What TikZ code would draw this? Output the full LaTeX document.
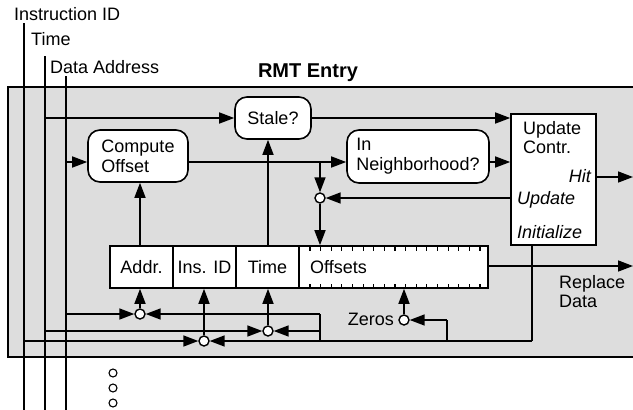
\documentclass[tikz,border=0pt]{standalone}
\usepackage{fontspec}
\setmainfont{Liberation Sans}
\usetikzlibrary{arrows.meta}
\definecolor{panel}{RGB}{221,221,221}
\tikzset{
 wire/.style={line width=1.6pt},
 arr/.style={wire,-{Triangle[length=15pt,width=11pt]}},
 lbl/.style={inner sep=0pt,font=\fontsize{18}{20}\selectfont},
 ilbl/.style={lbl,font=\fontsize{18}{20}\selectfont\itshape},
 rbox/.style={draw,line width=1.6pt,fill=white,rounded corners=12pt,font=\fontsize{18}{20}\selectfont,align=left,inner sep=0pt},
 sbox/.style={draw,line width=1.6pt,fill=white,inner sep=0pt,font=\fontsize{18}{20}\selectfont},
 mux/.style={circle,draw,line width=1.4pt,fill=white,minimum size=10pt,inner sep=0pt},
 dotc/.style={circle,draw,line width=1.1pt,minimum size=8pt,inner sep=0pt},
 tick/.style={line width=1.1pt},
}
\begin{document}
\begin{tikzpicture}[x=1pt,y=-1pt]
\useasboundingbox (0,0) rectangle (633,410);
% panel
\fill[panel] (8,87) rectangle (645,357);
\draw[wire] (645,87) -- (8,87) -- (8,357) -- (645,357);
% top labels
\node[lbl,anchor=base west] (tiid) at (14,20) {Instruction ID};
\node[lbl,anchor=base west] (ttime) at (31,45) {Time};
\node[lbl,anchor=base west] (tda) at (50,73) {Data Address};
\node[lbl,anchor=base,font=\fontsize{20}{22}\selectfont\bfseries] (title) at (308,77) {RMT Entry};
% input lines
\coordinate (iidtop) at (24,23);  \coordinate (iidbot) at (24,412);
\coordinate (timetop) at (45,56); \coordinate (timebot) at (45,412);
\coordinate (datop) at (66,76);   \coordinate (dabot) at (66,412);
\draw[wire] (iidtop) -- (iidbot);
\draw[wire] (timetop) -- (timebot);
\draw[wire] (datop) -- (dabot);
% boxes
\node[rbox,minimum width=76pt,minimum height=42pt] (stale) at (273,118) {Stale?};
\node[rbox,minimum width=100pt,minimum height=52pt] (comp) at (138,156) {Compute\\Offset};
\node[rbox,minimum width=142pt,minimum height=53pt] (neigh) at (418,156.5) {In\\Neighborhood?};
\node[sbox,minimum width=85pt,minimum height=131pt] (upd) at (553.5,179.5) {};
\node[lbl,anchor=base west] (u1) at (523,134) {Update};
\node[lbl,anchor=base west] (u2) at (523,153) {Contr.};
\node[ilbl,anchor=base east] (uhit) at (591,182) {Hit};
\node[ilbl,anchor=base west] (uupd) at (517,204) {Update};
\node[ilbl,anchor=base west] (uini) at (517,238) {Initialize};
% fields
\node[sbox,minimum width=63pt,minimum height=42pt] (addr) at (141.5,267) {Addr.};
\node[sbox,minimum width=63pt,minimum height=42pt] (ins) at (204.5,267) {Ins. ID};
\node[sbox,minimum width=63pt,minimum height=42pt] (timef) at (267.5,267) {Time};
\node[sbox,minimum width=189pt,minimum height=42pt] (offs) at (393.5,267) {};
\node[lbl,anchor=base west] (offtxt) at (310,273) {Offsets};
\foreach \k in {0,...,16}{
  \draw[tick] ({310+10.625*\k},246) -- ({310+10.625*\k},250.5);
  \draw[tick] ({310+10.625*\k},288) -- ({310+10.625*\k},283.5);
}
\node[lbl,anchor=base west] (rep1) at (559,288) {Replace};
\node[lbl,anchor=base west] (rep2) at (559,307) {Data};
% muxes
\node[mux] (cU) at (320,198) {};
\node[mux] (cA) at (140,314) {};
\node[mux] (cT) at (268,331) {};
\node[mux] (cI) at (204,341) {};
\node[mux] (cZ) at (404,320) {};
\node[lbl,anchor=base east] (zeros) at (394,325) {Zeros};
% dots
\node[dotc] (d1) at (113,373) {};
\node[dotc] (d2) at (113,388) {};
\node[dotc] (d3) at (113,403) {};
% coordinates
\coordinate (y162) at (0,162);
\coordinate (hitend) at (633,177);
\coordinate (repend) at (633,266);
\coordinate (ibot) at (532,341);
\coordinate (j1) at (320,341);
\coordinate (j2) at (447,341);
\coordinate (tup) at (268,0);
% connectors
\draw[arr] (stale.west -| timetop) -- (stale.west);
\draw[arr] (stale.east) -- (stale.east -| upd.west);
\draw[arr] (datop |- y162) -- (comp.west |- y162);
\draw[arr] (comp.east |- y162) -- (neigh.west |- y162);
\draw[arr] (neigh.east |- y162) -- (upd.west |- y162);
\draw[arr] (cU |- y162) -- (cU.north);
\draw[arr] (upd.west |- cU) -- (cU.east);
\draw[arr] (cU.south) -- (cU |- offs.north);
\draw[arr] (cA |- addr.north) -- (cA |- comp.south);
\draw[arr] (tup |- timef.north) -- (tup |- stale.south);
\draw[arr] (upd.east |- hitend) -- (hitend);
\draw[arr] (offs.east |- repend) -- (repend);
% initialize distribution
\draw[wire] (upd.south -| ibot) -- (ibot);
\draw[arr] (ibot) -- (cI.east);
\draw[wire] (j1) -- (j1 |- cA);
\draw[arr] (j1 |- cA) -- (cA.east);
\draw[arr] (j1 |- cT) -- (cT.east);
\draw[wire] (j2) -- (j2 |- cZ);
\draw[arr] (j2 |- cZ) -- (cZ.east);
% left inputs
\draw[arr] (iidtop |- cI) -- (cI.west);
\draw[arr] (timetop |- cT) -- (cT.west);
\draw[arr] (datop |- cA) -- (cA.west);
% mux outputs
\draw[arr] (cA.north) -- (cA |- addr.south);
\draw[arr] (cI.north) -- (cI |- ins.south);
\draw[arr] (cT.north) -- (cT |- timef.south);
\draw[arr] (cZ.north) -- (cZ |- offs.south);
\end{tikzpicture}
\end{document}
